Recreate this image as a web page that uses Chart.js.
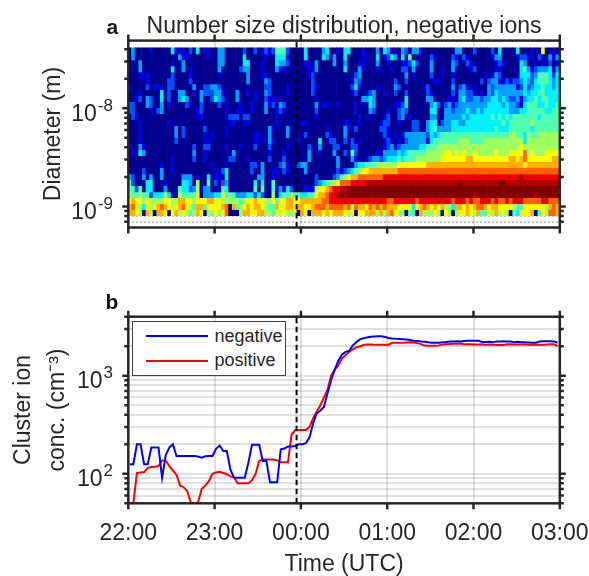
<!DOCTYPE html>
<html>
<head>
<meta charset="utf-8">
<script src="https://cdn.jsdelivr.net/npm/chart.js@4"></script>
<style>
    body { margin: 0; background: #fff; font-family: "Liberation Sans", Arial, sans-serif; }
    canvas { position: absolute; left: 0; }
    .panel { position: absolute; font-weight: bold; font-size: 21px; color: #111; }
    #legend {
        position: absolute; left: 131.5px; top: 321px; width: 154.5px; height: 54.5px;
        border: 1.5px solid #404040; background: #fff; box-sizing: border-box;
        font-size: 18px; color: #262626;
    }
    #legend div { position: absolute; left: 82px; }
    #legend span { position: absolute; left: -69px; top: 9.5px; width: 62px; height: 2px; }
</style>
</head>
<body>
<canvas id="chartA" width="589" height="260" style="top:0"></canvas>
<canvas id="chartB" width="589" height="316" style="top:260px"></canvas>
<div class="panel" style="left:106.5px;top:15px">a</div>
<div class="panel" style="left:105.5px;top:290px">b</div>
<div id="legend"></div>
<script>
// hour ticks, minutes after 22:00
const hourTicks = [0, 60, 120, 180, 240, 300];
const hourLabels = ["22:00", "23:00", "00:00", "01:00", "02:00", "03:00"];
const colTimes = [];
for (let i = 0; i < 120; i++) colTimes.push(i * 2.5 + 1);
const midnightMark = 117;

// diameter bin edges (m), top to bottom
const diamEdges = [4.135e-8, 3.592e-8, 3.121e-8, 2.712e-8, 2.356e-8, 2.046e-8, 1.778e-8, 1.545e-8,
    1.342e-8, 1.166e-8, 1.013e-8, 8.80e-9, 7.64e-9, 6.64e-9, 5.77e-9, 5.01e-9, 4.35e-9, 3.78e-9,
    3.29e-9, 2.86e-9, 2.48e-9, 2.15e-9, 1.87e-9, 1.63e-9, 1.41e-9, 1.23e-9, 1.07e-9, 9.26e-10, 8.05e-10];
const diamTicks = [7e-10, 8e-10, 9e-10, 1e-9, 2e-9, 3e-9, 4e-9, 5e-9, 6e-9, 7e-9, 8e-9, 9e-9, 1e-8, 2e-8, 3e-8, 4e-8];
const diamMajor = { "1e-9": "-9", "1e-8": "-8" };

// colour level of each cell, one string per diameter bin (0 low .. c high)
const heatRows = [
    "0300001000 0041110204 0110033000 0020020121 2555200004 0000340010 4400010003 0431003203 3100000000 0330002000 0204000040 0010070010",
    "0300000000 0000311000 0010033000 0040000010 0444100004 0000430300 4000011004 0124304050 0000210000 2102100000 0133000012 2110210313",
    "0003000000 0010030000 0000033000 0044000100 0433200001 1030000300 3000110003 0010001124 2000300000 3200210000 0012100004 3001010201",
    "0003000000 0040030100 0000030000 0233000100 0311000000 1130000000 4000310001 0001002203 0000300100 3000012000 0011000004 5312333413",
    "0001110000 0020000100 0000010000 0003000110 0000000000 1200000000 0002300000 0000000301 0000200100 1000000001 0132000014 4423555424",
    "0000010000 0220000200 0000000000 0003000032 0000000000 0200000000 0013200000 0000200200 0000011000 2000000020 2331121223 4324555434",
    "1000020111 0220000030 0223320000 0000000022 0000100000 0210000000 0024100001 0000320000 0012000000 3023101000 3233333312 4234454434",
    "0001000004 0200330010 3222331000 3001010032 0000100000 0200000000 0012001230 0100200200 0002100000 2033221010 3243333333 4344554444",
    "0012032004 0200343000 3002432000 3000010021 1010000000 0010000000 0000033430 0000000400 0003300001 1034223323 3443432231 3445455444",
    "2200032003 0100002100 2000020100 0100100031 2032000000 0030110010 0001010430 0000112400 0000342023 1233333333 4444343321 4555445445",
    "2200001023 0000000001 2000000100 1100100030 0121000000 0020000000 0001000320 0010023200 0000440033 2333433434 4444443334 4555554455",
    "0210000000 0000000001 1000000122 2022000000 0100000000 0010000000 0000101000 0120023010 0000330033 3334344444 4545454555 5555455555",
    "0001000000 0100000000 0000000011 0011000000 0100000011 0000000000 1100100000 1220010002 2003440233 4433444444 4444545555 5565555555",
    "0001000000 0003020000 0200000100 0000000003 1000300000 0000010000 3102000000 2210000002 2003453333 4444444444 4454445555 5545555555",
    "0001000000 0003020000 0101000100 0000011003 0000300102 0000021000 3000000000 0210101333 3332434555 5555555555 5555556655 4655666666",
    "0001000000 0002000000 0110000000 0000011013 1000000100 0004002200 2020100000 0121010233 3331455555 5566655556 6666666666 4666666666",
    "1003100000 0000000020 0220000100 0100020002 0000100000 2003000220 0022000000 0123123333 3445556666 6666666666 6666666667 6666666666",
    "0104300000 0000000030 0100000003 0000000001 0001000000 3001000300 2052000001 0333343455 5556666677 6767667666 6676667777 9676667777",
    "0000000000 0010000020 0100000022 0001000002 0002000000 3000000030 0031001233 2344454555 6666666777 7777887777 7777778878 9777777788",
    "0000000001 0010000000 0001000100 0000220300 0023100233 0000000030 0003445556 6666677777 7778888888 8888888888 8888888888 7888888888",
    "0000200003 0010000000 0000102400 0000200300 1102100003 0000000021 2345677888 8888899999 9999999999 9999999999 9999999999 9999999999",
    "3200303003 0000033301 0040110400 0000003300 1000000000 0020000235 6788999999 9aaaaaaaaa aaaaaaaaaa aaaaaaaaaa aaaaaaaaab aaaaaaaaaa",
    "5200044000 1000044306 0050202300 0000040400 5000000000 0023456679 99aaaabbbb bbbbbbbbbb bbbbbbbbbb bbcbbbbbbb bbbccbbbbb bbbbbbbbbb",
    "5525044000 3000544236 1330015400 0000050500 5131420001 1167789aab bccccccccc cccccccccc cccccccccc cccccccccc cccccccccc cccccccccc",
    "6556552444 6400655557 0333447555 3334424200 6145565544 557889aabc bccccccccc cccccccccc cccccccccc ccccccbccc cccccccccc cccbcccccc",
    "7877676666 7766887767 7788776666 6567787766 7577887788 888899aaaa aaaaaaaaaa aa99aaaaaa 9aaaaaaaaa 9aaa9a99aa a9a99a9aaa 99999aa999",
    "8976476789 8767897658 8577778908 5678788765 5877887887 7899989999 8979887989 8988877774 7898787866 4887878998 7887777655 7777776898",
    "8876086088 7078676568 7066767900 0688778866 5767667187 0888787888 7670778886 8689766055 0866676076 0677876855 7686760547 7780576998"
];
const levelColors = ["#00008f", "#0000e0", "#0050ff", "#00a0ff", "#00f0ff", "#50ffb0", "#a0ff60",
    "#ffff00", "#ffb000", "#ff6000", "#f00000", "#b00000", "#800000"];

// cluster ion concentration (cm-3)
const concTicks = [50, 60, 70, 80, 90, 100, 200, 300, 400, 500, 600, 700, 800, 900, 1000, 2000, 3000, 4000];
const concMajor = { "100": "2", "1000": "3" };
const negative = [125, 125, 200, 200, 125, 125, 185, 185, 185, 91,
    154, 185, 200, 152, 152, 152, 152, 152, 152, 150,
    146, 151, 152, 152, 180, 194, 171, 171, 110, 91,
    91, 91, 91, 130, 198, 198, 198, 135, 135, 82,
    82, 82, 178, 181, 190, 190, 192, 200, 200, 205,
    235, 326, 414, 440, 480, 664, 900, 1150, 1420, 1640,
    1750, 1790, 2030, 2200, 2350, 2410, 2460, 2500, 2510, 2520,
    2520, 2480, 2430, 2400, 2380, 2370, 2360, 2340, 2310, 2280,
    2265, 2240, 2220, 2190, 2170, 2165, 2165, 2190, 2210, 2240,
    2240, 2245, 2240, 2265, 2275, 2275, 2275, 2270, 2205, 2210,
    2220, 2190, 2240, 2240, 2245, 2240, 2235, 2190, 2220, 2200,
    2190, 2185, 2175, 2170, 2240, 2245, 2250, 2245, 2240, 2170];
const positive = [45, 50, 102, 103, 104, 115, 117, 118, 120, 137,
    137, 120, 108, 98, 76, 73, 66, 51, 50, 51,
    70, 76, 84, 100, 103, 105, 102, 99, 94, 92,
    80, 80, 80, 80, 86, 100, 135, 140, 140, 140,
    140, 137, 131, 131, 131, 250, 279, 279, 279, 279,
    300, 370, 430, 500, 600, 720, 1000, 1150, 1270, 1500,
    1620, 1750, 1850, 1950, 1990, 2060, 2080, 2080, 2075, 2070,
    2070, 2070, 2070, 2165, 2168, 2168, 2168, 2185, 2200, 2180,
    2150, 2100, 2030, 2025, 2025, 2025, 2040, 2080, 2100, 2110,
    2120, 2120, 2130, 2095, 2090, 2090, 2085, 2080, 2090, 2060,
    2080, 2070, 2060, 2060, 2060, 2090, 2090, 2085, 2085, 2080,
    2080, 2075, 2070, 2070, 2070, 2075, 2085, 2090, 2090, 2000];

const ink = "#262626";
const fontFamily = '"Liberation Sans", Arial, sans-serif';
Chart.defaults.font.family = fontFamily;
Chart.defaults.color = ink;
Chart.defaults.animation = false;

// outward ticks on all four sides, a heavy frame and the 10^n labels
const framePlugin = {
    id: "frame",
    afterDraw(chart) {
        const { ctx, chartArea: a, scales } = chart;
        const exps = chart.options.plugins.frame.exps;
        ctx.save();
        ctx.strokeStyle = ink;
        ctx.fillStyle = ink;
        ctx.lineWidth = 2.5;
        ctx.strokeRect(a.left, a.top, a.right - a.left, a.bottom - a.top);
        scales.x.ticks.forEach(t => {
            const px = scales.x.getPixelForValue(t.value);
            ctx.beginPath();
            ctx.moveTo(px, a.top - 6); ctx.lineTo(px, a.top);
            ctx.moveTo(px, a.bottom); ctx.lineTo(px, a.bottom + 6);
            ctx.stroke();
        });
        scales.y.ticks.forEach(t => {
            const py = scales.y.getPixelForValue(t.value);
            const exp = exps[String(t.value)];
            const len = exp ? 6 : 4;
            ctx.beginPath();
            ctx.moveTo(a.left - len, py); ctx.lineTo(a.left, py);
            ctx.moveTo(a.right, py); ctx.lineTo(a.right + len, py);
            ctx.stroke();
            if (exp) {
                ctx.textAlign = "right";
                ctx.textBaseline = "alphabetic";
                ctx.font = "17px " + fontFamily;
                ctx.fillText(exp, 113, py + 2.5);
                const start = 113 - ctx.measureText(exp).width;
                ctx.font = "23px " + fontFamily;
                ctx.fillText("10", start - 1, py + 12.5);
            }
        });
        ctx.restore();
    }
};

function xScale(showLabels, height) {
    return {
        type: "linear", min: 0, max: 300, offset: false,
        afterBuildTicks: s => { s.ticks = hourTicks.map(v => ({ value: v })); },
        afterFit: s => { s.height = height; s.paddingLeft = 0; s.paddingRight = 0; },
        border: { display: false },
        grid: { color: "rgba(0,0,0,0.12)", lineWidth: 2, drawTicks: false, offset: false },
        ticks: {
            display: showLabels, padding: 16.5, autoSkip: false, maxRotation: 0,
            font: { size: 23 },
            callback: v => hourLabels[hourTicks.indexOf(v)]
        },
        title: showLabels
            ? { display: true, text: "Time (UTC)", font: { size: 23, lineHeight: 1 }, padding: { top: 0, bottom: 0 } }
            : { display: false }
    };
}

function yScale(min, max, ticks, title, titlePad, lineHeight, dash) {
    return {
        type: "logarithmic", min: min, max: max,
        afterBuildTicks: s => { s.ticks = ticks.map(v => ({ value: v })); },
        afterFit: s => { s.width = 128.3; },
        border: { display: false, dash: dash },
        grid: { color: dash ? "rgba(0,0,0,0.22)" : "rgba(0,0,0,0.12)", lineWidth: 2, drawTicks: false },
        ticks: { display: false },
        title: {
            display: true, text: title, font: { size: 23, lineHeight: lineHeight },
            padding: { top: titlePad, bottom: 0 }
        }
    };
}

// panel a, one bar dataset per diameter bin
const cellSets = heatRows.map((row, r) => {
    const levels = row.replace(/ /g, "").split("");
    return {
        type: "bar",
        order: 1,
        data: levels.map((c, i) => ({ x: colTimes[i], y: [diamEdges[r + 1], diamEdges[r]] })),
        backgroundColor: levels.map(c => levelColors[parseInt(c, 16)]),
        borderWidth: 0,
        barPercentage: 1,
        categoryPercentage: 1,
        grouped: false
    };
});

new Chart(document.getElementById("chartA"), {
    type: "bar",
    data: {
        datasets: [{
            type: "line", order: 0,
            data: [{ x: midnightMark, y: 6.1e-10 }, { x: midnightMark, y: 4.9e-8 }],
            borderColor: "#000", borderWidth: 2, borderDash: [5.5, 3.5], pointRadius: 0
        }].concat(cellSets)
    },
    options: {
        responsive: false,
        layout: { padding: { top: 8, right: 29.2, left: 0, bottom: 0 } },
        plugins: {
            frame: { exps: diamMajor },
            legend: { display: false },
            tooltip: { enabled: false },
            title: {
                display: true, fullSize: false, text: "Number size distribution, negative ions",
                font: { size: 23, weight: "normal" }, color: ink, padding: { top: 5, bottom: 0 }
            }
        },
        scales: {
            x: xScale(false, 32.5),
            y: yScale(6.1e-10, 4.9e-8, diamTicks, "Diameter (m)", 40, 1.2, [2, 2])
        }
    },
    plugins: [framePlugin]
});

// panel b
const seriesB = [
    { label: "negative", values: negative, color: "#0000ff" },
    { label: "positive", values: positive, color: "#ff0000" }
];

new Chart(document.getElementById("chartB"), {
    type: "line",
    data: {
        datasets: [{
            order: 0,
            data: [{ x: midnightMark, y: 50 }, { x: midnightMark, y: 4000 }],
            borderColor: "#000", borderWidth: 2, borderDash: [5.5, 3.5], pointRadius: 0
        }].concat(seriesB.map(s => ({
            label: s.label, order: 1,
            data: s.values.map((v, i) => ({ x: colTimes[i], y: v })),
            borderColor: s.color, borderWidth: 2, pointRadius: 0, tension: 0
        })))
    },
    options: {
        responsive: false,
        layout: { padding: { top: 56.7, right: 29.2, left: 0, bottom: 0 } },
        plugins: { frame: { exps: concMajor }, legend: { display: false }, tooltip: { enabled: false } },
        scales: {
            x: xScale(true, 72.7),
            y: yScale(50, 4000, concTicks, ["Cluster ion", "conc. (cm⁻³)"], 7, 1.48, null)
        }
    },
    plugins: [framePlugin]
});

const legendBox = document.getElementById("legend");
seriesB.forEach((s, k) => {
    const row = document.createElement("div");
    row.style.top = (k === 0 ? 3.5 : 28) + "px";
    row.textContent = s.label;
    const swatch = document.createElement("span");
    swatch.style.background = s.color;
    row.appendChild(swatch);
    legendBox.appendChild(row);
});
</script>
</body>
</html>
